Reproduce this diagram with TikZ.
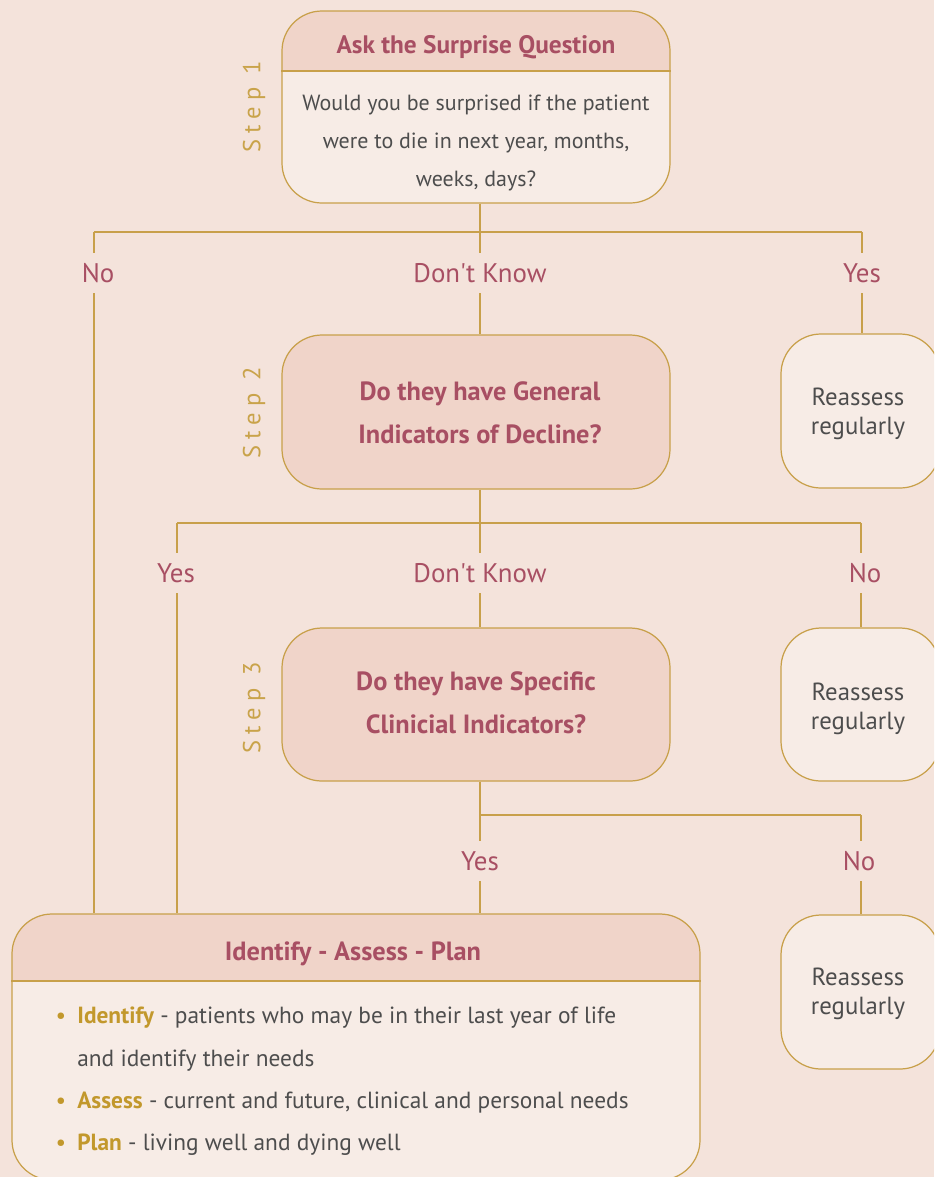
\documentclass[tikz,border=0pt]{standalone}
\usepackage{fontspec}
\setmainfont{PT Sans}
\usetikzlibrary{fit,calc}
\definecolor{bg}{HTML}{F4E3DB}
\definecolor{hdr}{HTML}{F0D4C9}
\definecolor{bodyfill}{HTML}{F7ECE6}
\definecolor{gold}{HTML}{C8A04A}
\definecolor{rose}{HTML}{A84F63}
\definecolor{ink}{HTML}{4D4D4D}
\definecolor{stepc}{HTML}{C9A34A}
\definecolor{boldgold}{HTML}{C2982C}
\begin{document}
\begin{tikzpicture}[x=0.02cm,y=-0.02cm,
  box/.style={draw=gold, line width=0.7pt, rounded corners=0.8cm, fill=bodyfill, inner sep=0pt},
  qbox/.style={box, fill=hdr},
  hbox/.style={box, path picture={\fill[hdr, sharp corners] (path picture bounding box.north west) rectangle ([yshift=-#1]path picture bounding box.north east);}},
  conn/.style={draw=gold, line width=0.7pt},
  lbl/.style={text=rose, font=\fontsize{15.3}{19}\selectfont, text height=10.7pt, text depth=0pt, minimum height=0.8cm, inner sep=0pt},
  title/.style={text=rose, font=\fontsize{15}{24.4}\selectfont\bfseries, align=center, anchor=base, inner sep=0pt},
  body/.style={text=ink, font=\fontsize{12.5}{21.5}\selectfont, align=center, anchor=base, inner sep=0pt},
  reass/.style={text=ink, font=\fontsize{14.1}{16.4}\selectfont, align=center, anchor=base, inner sep=0pt},
  steplbl/.style={text=stepc, rotate=90, font=\fontsize{14}{16}\selectfont\addfontfeature{LetterSpace=25}},
  item/.style={text=ink, font=\fontsize{13.3}{16}\selectfont, anchor=base west, inner sep=0pt},
  dot/.style={text=boldgold, font=\fontsize{13.3}{16}\selectfont, anchor=base, inner sep=0pt},
]
\fill[bg] (0,0) rectangle (934,1177);
\useasboundingbox (0,0) rectangle (934,1177);
\clip (0,0) rectangle (934,1177);

% boxes
\node[hbox=1.2cm, fit={(282,11) (670,203)}] (q1) {};
\node[qbox, fit={(282,335) (670,489)}] (q2) {};
\node[qbox, fit={(282,628) (670,781)}] (q3) {};
\node[box, fit={(781,334) (940,488)}] (r1) {};
\node[box, fit={(781,628) (940,781)}] (r2) {};
\node[box, fit={(781,915) (940,1069)}] (r3) {};
\node[hbox=1.34cm, fit={(12,914) (700,1180)}] (bot) {};

\coordinate (d1) at (0,71);
\coordinate (d2) at (0,981);
\draw[conn] (q1.west |- d1) -- (q1.east |- d1);
\draw[conn] (bot.west |- d2) -- (bot.east |- d2);

% texts in boxes
\node[title, font=\fontsize{14.4}{24}\selectfont\bfseries] (q1t) at (476,53) {Ask the Surprise Question};
\node[body] (q1b) at (476,186) {Would you be surprised if the patient\\were to die in next year, months,\\weeks, days?};
\node[title] (q2t) at (480,443) {Do they have General\\Indicators of Decline?};
\node[title] (q3t) at (476,733) {Do they have Specific\\Clinicial Indicators?};
\node[reass] (r1t) at (858,434) {Reassess\\regularly};
\node[reass] (r2t) at (858,729) {Reassess\\regularly};
\node[reass] (r3t) at (858,1014) {Reassess\\regularly};
\node[title] (bt) at (353,960) {Identify - Assess - Plan};

\node[steplbl] (s1) at (254,107) {Step 1};
\node[steplbl] (s2) at (254,413) {Step 2};
\node[steplbl] (s3) at (254,708) {Step 3};

\node[dot] (b1) at (61,1023) {\textbullet};
\node[item] (i1) at (77,1023) {\textcolor{boldgold}{\bfseries Identify} - patients who may be in their last year of life};
\node[item] (i1b) at (77,1066) {and identify their needs};
\node[dot] (b2) at (61,1108) {\textbullet};
\node[item] (i2) at (77,1108) {\textcolor{boldgold}{\bfseries Assess} - current and future, clinical and personal needs};
\node[dot] (b3) at (61,1150) {\textbullet};
\node[item] (i3) at (77,1150) {\textcolor{boldgold}{\bfseries Plan} - living well and dying well};

% labels
\node[lbl] (no1) at (98,273) {No};
\node[lbl] (dk1) at (480,273) {Don\textquotesingle t Know};
\node[lbl] (yes1) at (862,273) {Yes};
\node[lbl] (yes2) at (176,573) {Yes};
\node[lbl] (dk2) at (480,573) {Don\textquotesingle t Know};
\node[lbl] (no2) at (865,573) {No};
\node[lbl] (yes3) at (480,861) {Yes};
\node[lbl] (no3) at (859,861) {No};

% connectors
\coordinate (j1) at (480,232);
\coordinate (j1l) at (94,232);
\coordinate (j1r) at (862,232);
\draw[conn] (j1 |- q1.south) -- (j1);
\draw[conn] (j1l) -- (j1r);
\draw[conn] (j1l) -- (j1l |- no1.north);
\draw[conn] (j1l |- no1.south) -- (j1l |- bot.north);
\draw[conn] (j1) -- (dk1.north);
\draw[conn] (dk1.south) -- (dk1.south |- q2.north);
\draw[conn] (j1r) -- (yes1.north);
\draw[conn] (yes1.south) -- (yes1.south |- r1.north);

\coordinate (j2) at (480,523);
\coordinate (j2l) at (177,523);
\coordinate (j2r) at (861,523);
\draw[conn] (j2 |- q2.south) -- (j2);
\draw[conn] (j2l) -- (j2r);
\draw[conn] (j2l) -- (j2l |- yes2.north);
\draw[conn] (j2l |- yes2.south) -- (j2l |- bot.north);
\draw[conn] (j2) -- (dk2.north);
\draw[conn] (dk2.south) -- (dk2.south |- q3.north);
\draw[conn] (j2r) -- (j2r |- no2.north);
\draw[conn] (j2r |- no2.south) -- (j2r |- r2.north);

\coordinate (j3) at (480,815);
\coordinate (j3r) at (861,815);
\draw[conn] (j3 |- q3.south) -- (j3) -- (j3r);
\draw[conn] (j3) -- (yes3.north);
\draw[conn] (yes3.south) -- (yes3.south |- bot.north);
\draw[conn] (j3r) -- (j3r |- no3.north);
\draw[conn] (j3r |- no3.south) -- (j3r |- r3.north);
\end{tikzpicture}
\end{document}
